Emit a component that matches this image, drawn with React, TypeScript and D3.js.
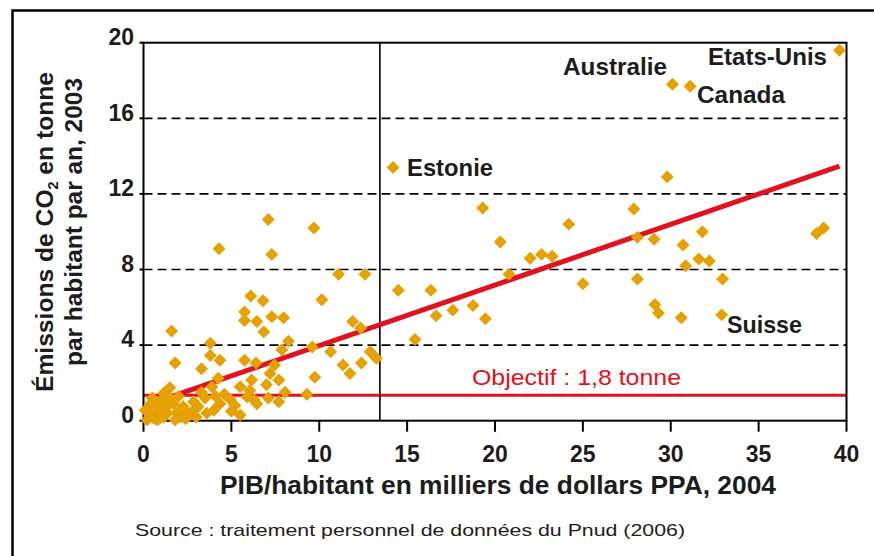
import React from "react";
import * as d3 from "d3";

const gdp = [
  39.6, 30.1, 31.1, 14.2, 32.9, 29.8, 27.9, 28.1, 29.05, 31.8, 30.7, 30.85, 31.6, 32.2, 28.1, 32.95, 29.1, 29.3, 30.6, 38.3, 38.7,
  19.3, 20.3, 24.2, 22.0, 22.65, 23.25, 20.8, 25.0, 14.5, 16.35, 16.65, 17.6, 18.75, 19.45, 15.45,
  4.3, 7.1, 9.7, 7.3, 11.1, 12.6, 6.1, 6.8, 10.15, 5.75, 5.75, 7.3, 7.97, 6.45, 6.85, 1.6, 11.9, 12.35, 3.8, 8.25, 9.6, 10.65,
  7.87, 3.8, 4.35, 1.8, 5.75, 6.4, 12.9, 13.25, 11.35, 11.75, 12.4, 3.3, 7.45, 7.2, 9.75, 4.25, 6.15, 7.7, 1.5, 3.9, 5.5, 7.0,
  9.3, 8.05, 7.7, 6.45, 7.1, 5.9, 6.05, 5.5, 4.95, 4.35, 4.0, 3.5, 3.1, 2.65, 2.25, 2.1, 1.8, 1.9, 1.3, 1.15, 0.95, 0.65, 0.55,
  0.35, 0.2, 0.1, 1.5, 1.15, 0.75, 2.85,
  0.4, 0.9, 1.35, 2.4, 2.95, 3.6, 1.7, 0.5, 2.0, 3.3, 4.6, 5.2, 6.3, 2.4, 3.0, 1.0, 0.3, 4.1, 5.0, 0.7,
];
const co2 = [
  19.6, 17.8, 17.7, 13.4, 5.6, 12.9, 11.2, 9.7, 9.6, 10.0, 9.3, 8.2, 8.55, 8.45, 7.5, 7.5, 6.15, 5.7, 5.45, 9.9, 10.2,
  11.25, 9.45, 10.4, 8.6, 8.8, 8.7, 7.75, 7.25, 6.9, 6.9, 5.55, 5.85, 6.1, 5.4, 4.3,
  9.1, 10.65, 10.2, 8.8, 7.75, 7.75, 6.6, 6.35, 6.4, 5.75, 5.3, 5.5, 5.45, 5.25, 4.7, 4.75, 5.25, 4.9, 4.1, 4.2, 3.9, 3.65,
  3.75, 3.45, 3.2, 3.05, 3.2, 3.05, 3.65, 3.3, 2.95, 2.5, 3.05, 2.75, 2.95, 2.5, 2.3, 2.25, 2.15, 2.15, 1.75, 1.8, 1.8, 1.9,
  1.4, 1.5, 1.0, 0.9, 1.2, 1.25, 1.6, 0.3, 1.1, 0.9, 0.55, 1.2, 0.75, 0.4, 0.75, 0.2, 0.05, 0.4, 0.75, 0.2, 0.55, 0.9, 0.15,
  0.4, 0.05, 0.55, 1.2, 1.45, 0.05, 1.0,
  0.9, 0.1, 0.4, 0.5, 0.6, 0.4, 0.9, 1.2, 1.3, 1.5, 1.4, 0.8, 1.1, 0.1, 0.2, 1.0, 0.7, 1.3, 0.5, 0.35,
];

const countryNames = ["Etats-Unis", "Australie", "Canada", "Estonie", "Suisse"];
const countryLabelX = [708, 563, 697, 407, 727];
const countryLabelY = [65, 75, 103, 176, 333];
const countryLabelW = [119, 104, 88, 86, 75];

const xTicks = [0, 5, 10, 15, 20, 25, 30, 35, 40];
const yTicks = [0, 4, 8, 12, 16, 20];
const gridValues = [4, 8, 12, 16];
const dividerGdp = 13.45;
const trendGdp = [0.8, 39.6];
const trendCo2 = [1.02, 13.47];
const objectiveCo2 = 1.35;

const xTitle = "PIB/habitant en milliers de dollars PPA, 2004";
const yTitle2 = "par habitant par an, 2003";
const objectiveLabel = "Objectif : 1,8 tonne";
const sourceText = "Source : traitement personnel de données du Pnud (2006)";

const ORANGE = "#E6A000";
const RED = "#E3101E";
const INK = "#1c1c1c";
const FONT = "'Liberation Sans', Arial, sans-serif";

export default function App() {
  const x = d3.scaleLinear().domain([0, 40]).range([143.5, 846.5]);
  const y = d3.scaleLinear().domain([0, 20]).range([420.7, 42.7]);
  const diamond = d3.symbol().type(d3.symbolSquare).size(84)() as string;
  const trendLine = d3
    .line<number>()
    .x((_, i) => x(trendGdp[i]))
    .y((_, i) => y(trendCo2[i]))(trendGdp) as string;

  return (
    <svg
      width={874}
      height={556}
      style={{ position: "absolute", left: 0, top: 0, background: "#fff" }}
      fontFamily={FONT}
    >
      <rect x={0} y={0} width={874} height={556} fill="#fff" />
      {/* outer frame */}
      <rect x={12.5} y={10.5} width={900} height={600} fill="none" stroke="#000" strokeWidth={2.5} />

      {/* dashed grid */}
      {gridValues.map((v) => (
        <line
          key={"g" + v}
          x1={x(0)}
          x2={x(40)}
          y1={y(v)}
          y2={y(v)}
          stroke="#000"
          strokeWidth={1.7}
          strokeDasharray="9,5"
        />
      ))}

      {/* objective line */}
      <line x1={x(0)} x2={x(40)} y1={y(objectiveCo2)} y2={y(objectiveCo2)} stroke={RED} strokeWidth={3} />

      {/* divider */}
      <line x1={x(dividerGdp)} x2={x(dividerGdp)} y1={y(20)} y2={y(0)} stroke="#000" strokeWidth={1.6} />

      {/* plot frame */}
      <rect x={x(0)} y={y(20)} width={x(40) - x(0)} height={y(0) - y(20)} fill="none" stroke="#000" strokeWidth={2} />

      {/* ticks */}
      {xTicks.map((t) => (
        <g key={"xt" + t}>
          <line x1={x(t)} x2={x(t)} y1={y(0)} y2={y(0) + 11} stroke="#000" strokeWidth={2} />
          <text x={x(t)} y={462} textAnchor="middle" fontSize={23} fontWeight="bold" fill={INK}>
            {t}
          </text>
        </g>
      ))}
      {yTicks.map((t) => (
        <g key={"yt" + t}>
          <line x1={x(0) - 4} x2={x(0)} y1={y(t)} y2={y(t)} stroke="#000" strokeWidth={2} />
          <text x={134} y={y(t) + 2.3} textAnchor="end" fontSize={23} fontWeight="bold" fill={INK}>
            {t}
          </text>
        </g>
      ))}

      {/* trend line */}
      <path d={trendLine} stroke={RED} strokeWidth={5} fill="none" />

      {/* points */}
      {gdp.map((g, i) => (
        <path
          key={"p" + i}
          d={diamond}
          transform={`translate(${x(g)},${y(co2[i])}) rotate(45)`}
          fill={ORANGE}
        />
      ))}

      {/* country labels */}
      {countryNames.map((n, i) => (
        <text
          key={n}
          x={countryLabelX[i]}
          y={countryLabelY[i]}
          fontSize={24}
          fontWeight="bold"
          fill={INK}
          textLength={countryLabelW[i]}
          lengthAdjust="spacingAndGlyphs"
        >
          {n}
        </text>
      ))}

      <text x={472} y={385} fontSize={22} fill={RED} textLength={209} lengthAdjust="spacingAndGlyphs">
        {objectiveLabel}
      </text>

      {/* axis titles */}
      <text x={220} y={494} fontSize={25} fontWeight="bold" fill={INK} textLength={556} lengthAdjust="spacingAndGlyphs">
        {xTitle}
      </text>
      <text
        transform="translate(53,232) rotate(-90)"
        textAnchor="middle"
        fontSize={24}
        fontWeight="bold"
        fill={INK}
        textLength={320}
        lengthAdjust="spacingAndGlyphs"
      >
        Émissions de CO
        <tspan fontSize={14} dy={5}>2</tspan>
        <tspan dy={-5}> en tonne</tspan>
      </text>
      <text
        transform="translate(82,222) rotate(-90)"
        textAnchor="middle"
        fontSize={24}
        fontWeight="bold"
        fill={INK}
        textLength={288}
        lengthAdjust="spacingAndGlyphs"
      >
        {yTitle2}
      </text>

      <text x={135} y={536} fontSize={17} fill={INK} textLength={550} lengthAdjust="spacingAndGlyphs">
        {sourceText}
      </text>
    </svg>
  );
}
